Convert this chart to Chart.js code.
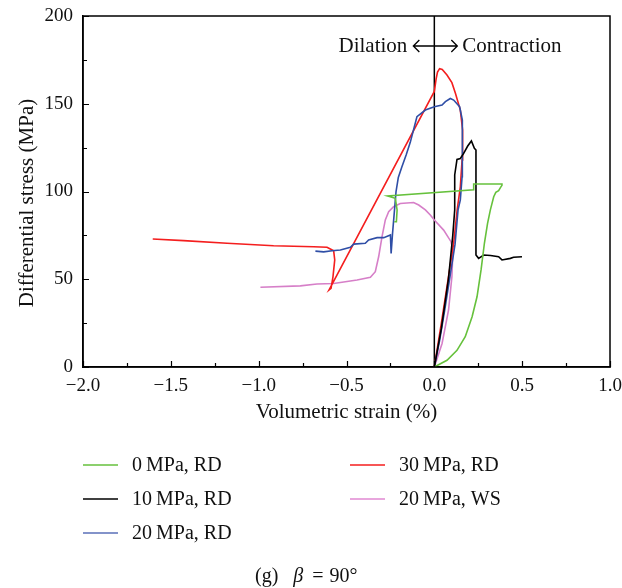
<!DOCTYPE html>
<html>
<head>
<meta charset="utf-8">
<script src="https://cdn.jsdelivr.net/npm/chart.js@4/dist/chart.umd.min.js"></script>
<style>
  body { margin: 0; background: #fff; }
  #wrap { width: 622px; height: 588px; }
</style>
</head>
<body>
<div id="wrap"><canvas id="myChart" width="622" height="588"></canvas></div>
<script>
// volumetric strain (%) / differential stress (MPa)
var strain0 = [0, 0.072, 0.129, 0.176, 0.215, 0.243, 0.266, 0.285, 0.303, 0.319, 0.338, 0.35, 0.366, 0.378, 0.385, 0.385, 0.224, 0.224, -0.266, -0.222, -0.212, -0.216, -0.228]
var stress0 = [0, 3.8, 9.5, 17.3, 28.6, 40, 55.3, 70.5, 81.8, 89.5, 97, 99.5, 100.5, 102.5, 103.5, 104.3, 104.3, 101, 97.4, 96.1, 89.5, 82.8, 82.8]

var strain10 = [0, 0.04, 0.08, 0.105, 0.116, 0.116, 0.129, 0.148, 0.167, 0.19, 0.211, 0.228, 0.237, 0.237, 0.252, 0.281, 0.32, 0.366, 0.385, 0.433, 0.451, 0.499]
var stress10 = [0, 22, 50, 75, 89.5, 109.4, 118.3, 118.8, 121.7, 125.9, 128.8, 124.6, 123.6, 63.8, 61.9, 63.8, 63.5, 62.8, 61, 61.9, 62.5, 62.8]

var strain20 = [0, 0.03, 0.06, 0.09, 0.118, 0.135, 0.148, 0.158, 0.161, 0.158, 0.144, 0.11, 0.091, 0.063, 0.044, 0, -0.051, -0.099, -0.137, -0.16, -0.185, -0.205, -0.218, -0.228, -0.238, -0.246, -0.25, -0.288, -0.326, -0.374, -0.393, -0.459, -0.478, -0.535, -0.582, -0.63, -0.677]
var stress20 = [0, 15, 33, 52, 70, 89.5, 95.2, 108.4, 125.5, 140.7, 148.3, 152.1, 153, 151.2, 149.3, 148.3, 146.4, 142.6, 128, 121, 114, 108, 100, 88, 76, 64.7, 75.2, 73.7, 73.7, 72.4, 70.5, 70, 68.2, 66.7, 66.2, 65.6, 66]

var strain30 = [0, 0.04, 0.08, 0.11, 0.12, 0.13, 0.148, 0.158, 0.161, 0.148, 0.12, 0.1, 0.072, 0.045, 0.03, 0.018, 0.01, 0, -0.599, -0.588, -0.577, -0.567, -0.573, -0.592, -0.611, -0.687, -0.915, -1.18, -1.427, -1.603]
var stress30 = [0, 25, 51, 70.5, 80, 89.5, 102.7, 118, 135, 146.4, 156, 162, 166.4, 169.5, 170, 168, 164, 157, 43.9, 44.8, 51.4, 61, 66.2, 67.2, 68.2, 68.5, 69.1, 70.5, 72, 72.9]

var strainWS = [0, 0.044, 0.081, 0.1, 0.106, 0.095, 0.053, 0, -0.023, -0.051, -0.089, -0.118, -0.194, -0.232, -0.26, -0.279, -0.298, -0.317, -0.336, -0.364, -0.44, -0.573, -0.668, -0.763, -0.99]
var stressWS = [0, 13.4, 32.5, 51.4, 66.7, 71.4, 78, 83.8, 86.6, 89.5, 92.3, 93.7, 93.2, 91.3, 88.5, 83.8, 74.2, 62.8, 54.3, 51.1, 49.6, 47.6, 47.3, 46.2, 45.4]

var seriesNames = ['0\u2009MPa, RD', '10\u2009MPa, RD', '20\u2009MPa, RD', '30\u2009MPa, RD', '20\u2009MPa, WS']
var seriesColors = ['#66c13c', '#000000', '#2f4ea6', '#f41e1e', '#d67fc8']
var legendColors = ['#66c13c', '#000000', '#5a6fb8', '#f41e1e', '#e088d2']
var xTicks = [-2.0, -1.5, -1.0, -0.5, 0.0, 0.5, 1.0]
var yTicks = [0, 50, 100, 150, 200]

var serif = '"Liberation Serif", "DejaVu Serif", serif'

function pairs(xs, ys) {
    return xs.map(function (x, i) { return { x: x, y: ys[i] } })
}

var allX = [strain0, strain10, strain20, strain30, strainWS]
var allY = [stress0, stress10, stress20, stress30, stressWS]

var datasets = allX.map(function (xs, i) {
    return {
        label: seriesNames[i],
        data: pairs(xs, allY[i]),
        borderColor: seriesColors[i],
        backgroundColor: seriesColors[i],
        borderWidth: 1.6,
        showLine: true,
        pointRadius: 0,
        tension: 0,
        fill: false
    }
})

// frame, inward ticks, zero line, annotation, legend and caption
var extras = {
    id: 'extras',
    beforeDatasetsDraw: function (chart) {
        var c = chart.ctx, xs = chart.scales.x, ys = chart.scales.y
        var x0 = xs.getPixelForValue(0)
        c.save()
        c.strokeStyle = '#000'
        c.lineWidth = 1.5
        c.beginPath()
        c.moveTo(x0, ys.getPixelForValue(0))
        c.lineTo(x0, ys.getPixelForValue(200))
        c.stroke()
        c.restore()
    },
    afterDraw: function (chart) {
        var c = chart.ctx, a = chart.chartArea
        var xs = chart.scales.x, ys = chart.scales.y
        c.save()
        c.strokeStyle = '#000'
        c.lineWidth = 1.5
        c.strokeRect(a.left, a.top, a.right - a.left, a.bottom - a.top)

        c.lineWidth = 1.2
        c.beginPath()
        for (var v = -2; v <= 1.001; v += 0.25) {
            var px = Math.round(xs.getPixelForValue(v)) + 0.5
            var len = Math.abs(v * 2 - Math.round(v * 2)) < 0.01 ? 6 : 4
            c.moveTo(px, a.bottom)
            c.lineTo(px, a.bottom - len)
        }
        for (var w = 0; w <= 200; w += 25) {
            var py = Math.round(ys.getPixelForValue(w)) + 0.5
            var l2 = w % 50 == 0 ? 6 : 4
            c.moveTo(a.left, py)
            c.lineTo(a.left + l2, py)
        }
        c.stroke()

        c.fillStyle = '#111'
        c.font = '21px ' + serif
        c.textBaseline = 'middle'

        // Dilation <-> Contraction
        var x0 = xs.getPixelForValue(0)
        c.textAlign = 'right'
        c.fillText('Dilation', x0 - 27, 46)
        c.textAlign = 'left'
        c.fillText('Contraction', x0 + 28, 46)
        c.lineWidth = 1.3
        c.beginPath()
        c.moveTo(x0 - 21, 46); c.lineTo(x0 + 23, 46)
        c.moveTo(x0 - 15, 40); c.lineTo(x0 - 21, 46); c.lineTo(x0 - 15, 52)
        c.moveTo(x0 + 17, 40); c.lineTo(x0 + 23, 46); c.lineTo(x0 + 17, 52)
        c.stroke()

        // axis titles
        c.textAlign = 'center'
        c.textBaseline = 'alphabetic'
        c.fillText('Volumetric strain (%)', (a.left + a.right) / 2, 418)
        c.save()
        c.translate(27, 203)
        c.rotate(-Math.PI / 2)
        c.textBaseline = 'middle'
        c.fillText('Differential stress (MPa)', 0, 0)
        c.restore()

        // legend, two columns
        var spots = [[83, 465], [83, 499], [83, 533], [350, 465], [350, 499]]
        c.font = '20px ' + serif
        c.textAlign = 'left'
        c.textBaseline = 'middle'
        spots.forEach(function (s, i) {
            c.strokeStyle = legendColors[i]
            c.lineWidth = 1.5
            c.beginPath()
            c.moveTo(s[0], s[1])
            c.lineTo(s[0] + 35, s[1])
            c.stroke()
            c.fillStyle = '#111'
            c.fillText(seriesNames[i], s[0] + 49, s[1] + 1)
        })

        // caption
        var cy = 577
        var cx = 255
        c.fillText('(g)', cx, cy)
        cx += c.measureText('(g)').width + 15
        c.font = 'italic 20px ' + serif
        c.fillText('\u03b2', cx, cy)
        cx += c.measureText('\u03b2').width + 9
        c.font = '20px ' + serif
        c.fillText('=', cx, cy)
        cx += c.measureText('=').width + 6
        c.fillText('90\u00b0', cx, cy)
        c.restore()
    }
}

var ctx = document.getElementById('myChart')
new Chart(ctx, {
    type: 'scatter',
    data: { datasets: datasets },
    options: {
        responsive: false,
        animation: false,
        layout: { padding: { left: 0, top: 16, right: 12, bottom: 0 } },
        plugins: {
            legend: { display: false },
            tooltip: { enabled: false }
        },
        scales: {
            x: {
                type: 'linear',
                min: -2, max: 1,
                afterFit: function (scale) {
                    scale.height = 221
                    scale.paddingLeft = 0
                    scale.paddingRight = 0
                },
                afterBuildTicks: function (scale) {
                    scale.ticks = xTicks.map(function (v) { return { value: v } })
                },
                grid: { display: false, drawTicks: false },
                border: { display: true, color: '#000', width: 1.5 },
                ticks: {
                    color: '#111',
                    padding: 8,
                    maxRotation: 0,
                    font: { family: serif, size: 19 },
                    callback: function (v) {
                        return (v < 0 ? '\u2212' : '') + Math.abs(v).toFixed(1)
                    }
                }
            },
            y: {
                type: 'linear',
                min: 0, max: 200,
                afterFit: function (scale) {
                    scale.width = 83
                    scale.paddingTop = 0
                    scale.paddingBottom = 0
                },
                afterBuildTicks: function (scale) {
                    scale.ticks = yTicks.map(function (v) { return { value: v } })
                },
                grid: { display: false, drawTicks: false },
                border: { display: true, color: '#000', width: 1.5 },
                ticks: {
                    color: '#111',
                    padding: 10,
                    font: { family: serif, size: 19 }
                }
            }
        }
    },
    plugins: [extras]
})
</script>
</body>
</html>
